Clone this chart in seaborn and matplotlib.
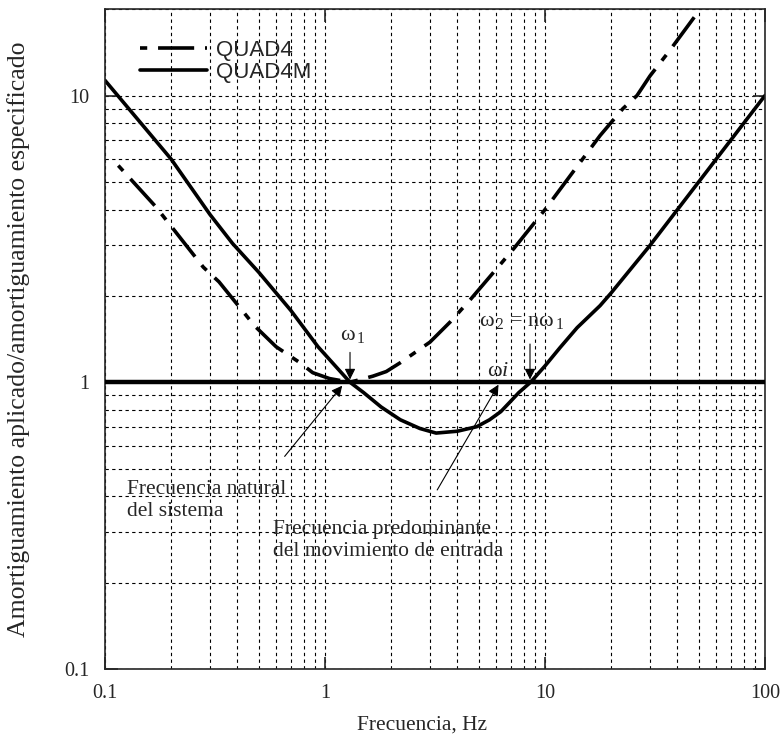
import numpy as np
import pandas as pd
import matplotlib
matplotlib.use('Agg')
import matplotlib.pyplot as plt
import seaborn as sns

# QUAD4M (solid)
freq_quad4m = [0.1, 0.2, 0.3, 0.38, 0.5, 0.7, 0.93, 1.3, 1.5, 1.8, 2.2, 2.7,
               3.2, 4.0, 4.9, 5.6, 6.3, 7.0, 7.6, 8.6, 10, 11.7, 14, 17.8, 20,
               30, 40, 50, 70, 85, 100]
ratio_quad4m = [11.3, 6.0, 3.85, 3.05, 2.42, 1.78, 1.33, 1.0, 0.92, 0.82, 0.74, 0.69,
                0.665, 0.675, 0.70, 0.74, 0.79, 0.86, 0.92, 1.0, 1.14, 1.32, 1.55, 1.85, 2.05,
                3.0, 4.0, 5.0, 7.0, 8.5, 10.0]

# QUAD4 (dashed)
freq_quad4 = [0.115, 0.17, 0.2, 0.28, 0.33, 0.48, 0.6, 0.77, 0.88, 1.05, 1.3, 1.65,
              1.9, 2.2, 3.0, 3.7, 4.6, 7.2, 10, 17.8, 22.6, 26.2, 30, 37, 50]
ratio_quad4 = [5.7, 4.1, 3.5, 2.52, 2.24, 1.57, 1.33, 1.17, 1.08, 1.03, 1.0, 1.05,
               1.09, 1.17, 1.38, 1.62, 1.95, 2.92, 4.0, 7.25, 9.0, 10.0, 11.7, 14.4, 19.7]

xticks = [0.1, 1, 10, 100]
xtick_labels = ['0.1', '1', '10', '100']
yticks = [0.1, 1, 10]
ytick_labels = ['0.1', '1', '10']

df4m = pd.DataFrame({'freq': freq_quad4m, 'ratio': ratio_quad4m})
df4 = pd.DataFrame({'freq': freq_quad4, 'ratio': ratio_quad4})

sns.set_style('ticks')
plt.rcParams['font.family'] = ['Liberation Serif', 'DejaVu Serif']
plt.rcParams['mathtext.fontset'] = 'custom'
plt.rcParams['mathtext.rm'] = 'Liberation Serif'
plt.rcParams['mathtext.it'] = 'Liberation Serif:italic'

fig = plt.figure(figsize=(7.83, 7.38), dpi=100)
ax = fig.add_axes([0.134, 0.0935, 0.843, 0.894])
ax.set_xscale('log')
ax.set_yscale('log')

# linea discontinua: empieza con guion corto, luego largo
sns.lineplot(x='freq', y='ratio', data=df4, sort=False, color='black', lw=2.6,
             linestyle=(13, (10, 3, 2, 3)), label='QUAD4', ax=ax)
sns.lineplot(x='freq', y='ratio', data=df4m, sort=False, color='black', lw=2.6,
             label='QUAD4M', ax=ax)
ax.axhline(1, color='black', lw=3.2, zorder=3)

ax.set_xlim(0.1, 100)
ax.set_ylim(0.1, 20)
ax.grid(True, which='both', color='black', linestyle=(0, (3, 3)), lw=0.8)
ax.set_xticks(xticks, xtick_labels)
ax.set_yticks(yticks, ytick_labels)
ax.tick_params(which='major', direction='in', length=9, width=1.2, top=True, right=True,
               labelsize=14.5, pad=11)
ax.tick_params(which='minor', length=0)
for s in ax.spines.values():
    s.set_linewidth(1.2)

ax.set_xlabel('Frecuencia, Hz', fontsize=15.5)
ax.xaxis.set_label_coords(0.48, -0.07)
ax.set_ylabel('Amortiguamiento aplicado/amortiguamiento especificado', fontsize=18.5)
ax.yaxis.set_label_coords(-0.114, 0.5)

ax.legend(loc='upper left', bbox_to_anchor=(0.04, 0.967), frameon=False,
          prop={'family': 'Liberation Sans', 'size': 16}, handlelength=3.0,
          handletextpad=0.4, labelspacing=0.05, borderaxespad=0)

arr = dict(arrowstyle='-|>', color='black', lw=0.8, mutation_scale=16)
ax.annotate('', xy=(1.3, 1.0), xytext=(1.3, 1.3), arrowprops=arr)
ax.text(1.34, 1.45, r'ω$_{\,1}$', fontsize=16, ha='center', va='center')
ax.annotate('', xy=(8.55, 1.0), xytext=(8.55, 1.39), arrowprops=arr)
ax.text(7.86, 1.63, r'ω$_{\,2}$ = nω$_{\,1}$', fontsize=16, ha='center', va='center')
ax.text(6.1, 1.09, r'ω$\mathit{i}$', fontsize=16, ha='center', va='center')
ax.annotate('', xy=(1.22, 0.99), xytext=(0.644, 0.542), arrowprops=arr)
ax.annotate('', xy=(6.24, 1.0), xytext=(3.19, 0.413), arrowprops=arr)
ax.text(0.126, 0.455, 'Frecuencia natural\ndel sistema', fontsize=15.5, ha='left', va='top',
        linespacing=1.2)
ax.text(0.58, 0.33, 'Frecuencia predominante\ndel movimiento de entrada', fontsize=15.5,
        ha='left', va='top', linespacing=1.2)

fig.savefig('out.png', dpi=100)
